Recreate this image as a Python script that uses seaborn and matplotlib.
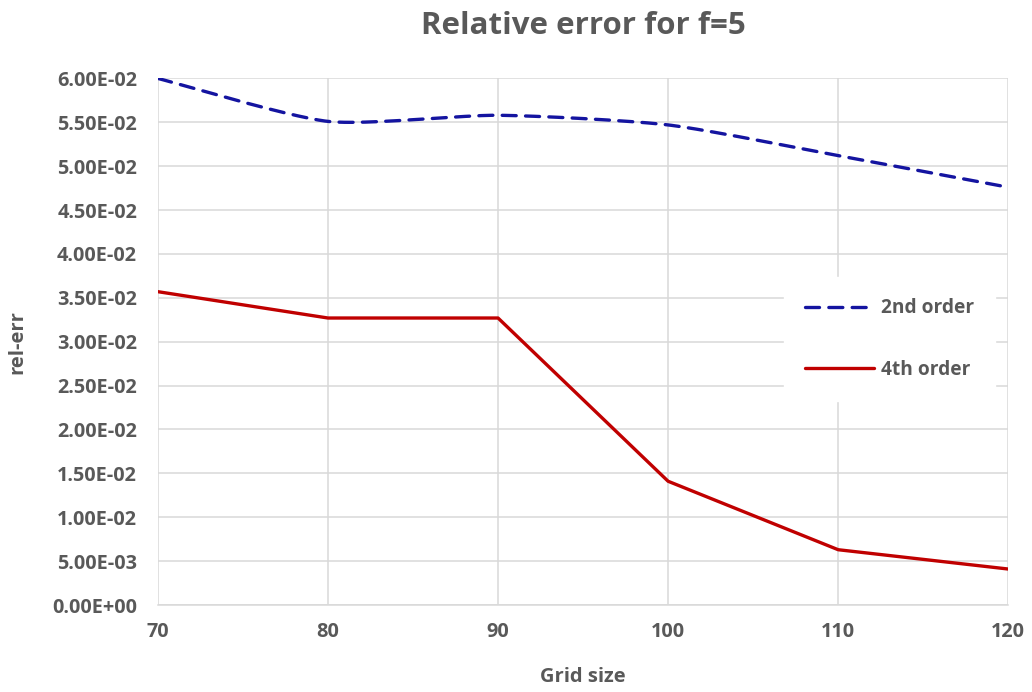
import numpy as np
import pandas as pd
import matplotlib
matplotlib.use("Agg")
import matplotlib.pyplot as plt
from matplotlib.ticker import FuncFormatter, MultipleLocator
import seaborn as sns

# Data
grid_size = [70, 80, 90, 100, 110, 120]
err_2nd = [0.0600, 0.0551, 0.0558, 0.0547, 0.0512, 0.0476]
err_4th = [0.0357, 0.0327, 0.0327, 0.0141, 0.0063, 0.0041]
series_names = ["2nd order", "4th order"]
title = "Relative error for f=5"
x_label = "Grid size"
y_label = "rel-err"


def smooth_curve(xs, ys, n=40, k=0.11):
    """Bezier smoothing through every point (Catmull-Rom style control points)."""
    p = np.column_stack([xs, ys]).astype(float)
    ext = np.vstack([p[0], p, p[-1]])
    out = []
    for i in range(len(p) - 1):
        p0, p1, p2, p3 = ext[i], ext[i + 1], ext[i + 2], ext[i + 3]
        c1 = p1 + (p2 - p0) * k
        c2 = p2 - (p3 - p1) * k
        t = np.linspace(0, 1, n, endpoint=(i == len(p) - 2))[:, None]
        seg = ((1 - t) ** 3) * p1 + 3 * ((1 - t) ** 2) * t * c1 + 3 * (1 - t) * t ** 2 * c2 + t ** 3 * p2
        out.append(seg)
    out = np.vstack(out)
    return out[:, 0], out[:, 1]


sx, sy = smooth_curve(grid_size, err_2nd)
df2 = pd.DataFrame({"x": sx, "y": sy})
df4 = pd.DataFrame({"x": grid_size, "y": err_4th})

sns.set_theme(style="whitegrid")
plt.rcParams["font.family"] = ["Open Sans", "DejaVu Sans"]
text_color = "#595959"
grid_color = "#d9d9d9"

fig = plt.figure(figsize=(10.32, 6.92), dpi=100)
ax = fig.add_axes([0.153, 0.1257, 0.824, 0.761])

sns.lineplot(data=df2, x="x", y="y", ax=ax, color="#1414a0", linewidth=2.4,
             label=series_names[0], sort=False, estimator=None)
ax.lines[-1].set_dashes((4.2, 2.8))
ax.lines[-1].set_dash_capstyle("round")
sns.lineplot(data=df4, x="x", y="y", ax=ax, color="#c00000", linewidth=2.4,
             label=series_names[1], estimator=None)

ax.set_xlim(70, 120)
ax.set_ylim(0, 0.06)
ax.xaxis.set_major_locator(MultipleLocator(10))
ax.yaxis.set_major_locator(MultipleLocator(0.005))
ax.yaxis.set_major_formatter(FuncFormatter(lambda v, _: f"{v:.2E}"))

ax.grid(True, color=grid_color, linewidth=1.1)
for side in ["left", "right", "top"]:
    ax.spines[side].set_visible(False)
ax.spines["bottom"].set_color(grid_color)
ax.spines["bottom"].set_linewidth(1.1)
ax.tick_params(axis="both", length=0, colors=text_color, labelsize=14.3)
ax.tick_params(axis="y", pad=15)
ax.tick_params(axis="x", pad=12)
for lab in ax.get_xticklabels() + ax.get_yticklabels():
    lab.set_fontweight("bold")

ax.set_xlabel(x_label, fontsize=14.5, fontweight="bold", color=text_color, labelpad=18)
ax.set_ylabel(y_label, fontsize=14.5, fontweight="bold", color=text_color, labelpad=18)
fig.text(0.565, 0.962, title, ha="center", va="center", fontsize=22.5,
         fontweight="bold", color=text_color)

leg = ax.legend(loc="center left", bbox_to_anchor=(0.725, 0.505), frameon=True,
                fontsize=13.8, handlelength=3.6, labelspacing=2.15,
                borderpad=1.1, handletextpad=0.35, fancybox=False)
leg.get_frame().set_facecolor("white")
leg.get_frame().set_edgecolor("white")
leg.get_frame().set_alpha(1.0)
for t in leg.get_texts():
    t.set_color(text_color)
    t.set_fontweight("bold")

fig.savefig("out.png", dpi=100, facecolor="white")
